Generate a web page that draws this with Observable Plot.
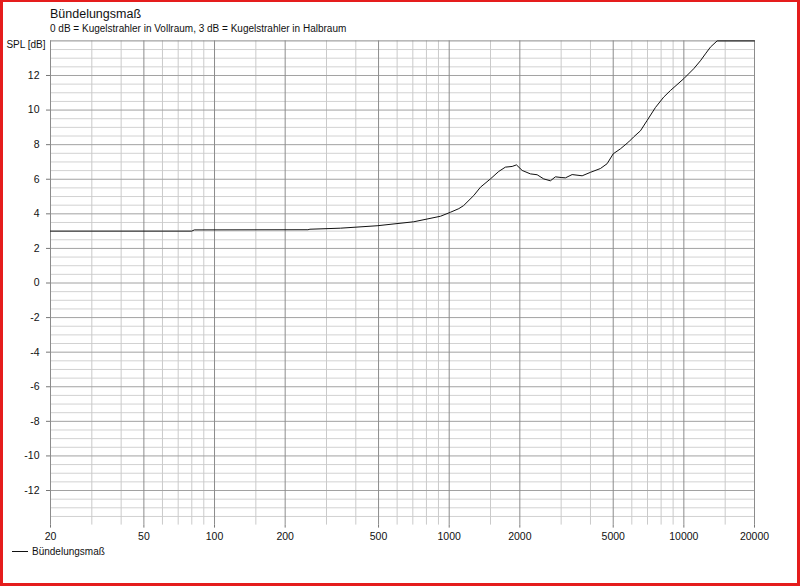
<!DOCTYPE html>
<html>
<head>
<meta charset="utf-8">
<script src="https://cdn.jsdelivr.net/npm/d3@7"></script>
<script src="https://cdn.jsdelivr.net/npm/@observablehq/plot@0.6"></script>
<style>
  html, body { margin: 0; padding: 0; background: #fff; }
  #page { position: relative; width: 800px; height: 586px; overflow: hidden; background: #fff;
          font-family: "Liberation Sans", Arial, sans-serif; color: #111; }
  #frame { position: absolute; inset: 0; border: 3px solid #e51d1d; border-top-width: 2px; pointer-events: none; }
  .title { position: absolute; left: 50px; top: 7.7px; font-size: 12.5px; line-height: 12.5px; white-space: nowrap; }
  .subtitle { position: absolute; left: 50px; top: 23.8px; font-size: 10px; line-height: 10px; white-space: nowrap; }
  #chart { position: absolute; left: 0; top: 34px; }
  #legend { position: absolute; left: 12px; top: 547px; font-size: 10px; line-height: 10px; white-space: nowrap; }
  #legend .swatch { display: inline-block; width: 16px; border-top: 1px solid #111; vertical-align: 3.5px; margin-right: 4px; }
</style>
</head>
<body>
<div id="page">
  <div class="title">Bündelungsmaß</div>
  <div class="subtitle">0 dB = Kugelstrahler in Vollraum, 3 dB = Kugelstrahler in Halbraum</div>
  <div id="chart"></div>
  <div id="legend"><span class="swatch"></span>Bündelungsmaß</div>
  <div id="frame"></div>
</div>
<script>
// (Hz, dB)
const freq = [20, 80, 82, 250, 255, 344, 493, 706, 918, 1012, 1099, 1153, 1273, 1359, 1499, 1626, 1736, 1855, 1935,
  2046, 2218, 2370, 2528, 2700, 2836, 3000, 3129, 3341, 3686, 4000, 4410, 4710, 5000, 5368, 5822, 6114, 6531,
  6974, 7568, 8206, 8766, 10000, 11015, 11762, 12355, 12977, 13857, 20000];
const spl = [3.0, 3.0, 3.07, 3.08, 3.11, 3.17, 3.31, 3.54, 3.86, 4.09, 4.3, 4.48, 5.06, 5.54, 6.02, 6.45, 6.70, 6.74, 6.83,
  6.51, 6.31, 6.26, 6.02, 5.91, 6.14, 6.1, 6.08, 6.27, 6.2, 6.4, 6.62, 6.9, 7.47, 7.76, 8.16, 8.45, 8.8,
  9.4, 10.15, 10.75, 11.13, 11.82, 12.39, 12.85, 13.25, 13.64, 14.0, 14.0];

const xTicks = [20, 50, 100, 200, 500, 1000, 2000, 5000, 10000, 20000];
const xMinor = [30, 40, 60, 70, 80, 90, 150, 300, 400, 600, 700, 800, 900, 1500, 3000, 4000, 6000, 7000, 8000, 9000, 15000];
const yTicks = [-12, -10, -8, -6, -4, -2, 0, 2, 4, 6, 8, 10, 12];
const yDomain = [-14, 14];
const xDomain = [20, 20000];

const rows = freq.map((f, i) => ({f, db: spl[i]}));
const yMinor = d3.range(-13.5, 14, 0.5).filter(v => v % 2 !== 0);

const plot = Plot.plot({
  width: 800,
  height: 510,
  marginLeft: 50,
  marginRight: 46,
  marginTop: 6.4,
  marginBottom: 19.4,
  x: {type: "log", domain: xDomain, axis: null},
  y: {domain: yDomain, axis: null},
  style: {fontFamily: '"Liberation Sans", Arial, sans-serif', fontSize: "10.5px", color: "#111", background: "transparent"},
  marks: [
    Plot.ruleY(yMinor, {stroke: "#d2d2d2", strokeWidth: 1}),
    Plot.ruleX(xMinor, {stroke: "#cacaca", strokeWidth: 1}),
    Plot.ruleY(yTicks, {stroke: "#a2a2a2", strokeWidth: 1}),
    Plot.ruleX(xTicks.slice(1, -1), {stroke: "#8c8c8c", strokeWidth: 1}),
    Plot.ruleY([yDomain[1]], {stroke: "#8c8c8c", strokeWidth: 1}),
    Plot.ruleX(xDomain, {stroke: "#8c8c8c", strokeWidth: 1}),
    Plot.line(rows, {x: "f", y: "db", stroke: "#111", strokeWidth: 1}),
    // short tick marks outside the frame
    Plot.ruleX(xTicks, {x: d => d, y1: yDomain[0], y2: yDomain[0], insetBottom: -3, stroke: "#777"}),
    Plot.ruleY(yTicks, {y: d => d, x1: xDomain[0], x2: xDomain[0], insetLeft: -4, stroke: "#777"}),
    Plot.text(xTicks, {x: d => d, text: d => String(d), frameAnchor: "bottom", lineAnchor: "top", dy: 7, fill: "#111"}),
    Plot.text(yTicks, {y: d => d, text: d => String(d), frameAnchor: "left", textAnchor: "end", dx: -11, fill: "#111"}),
    Plot.text(["SPL [dB]"], {frameAnchor: "top-left", text: d => d, textAnchor: "end", lineAnchor: "top", dx: -5, fontSize: 10, fill: "#111"})
  ]
});
document.getElementById("chart").append(plot);
</script>
</body>
</html>
